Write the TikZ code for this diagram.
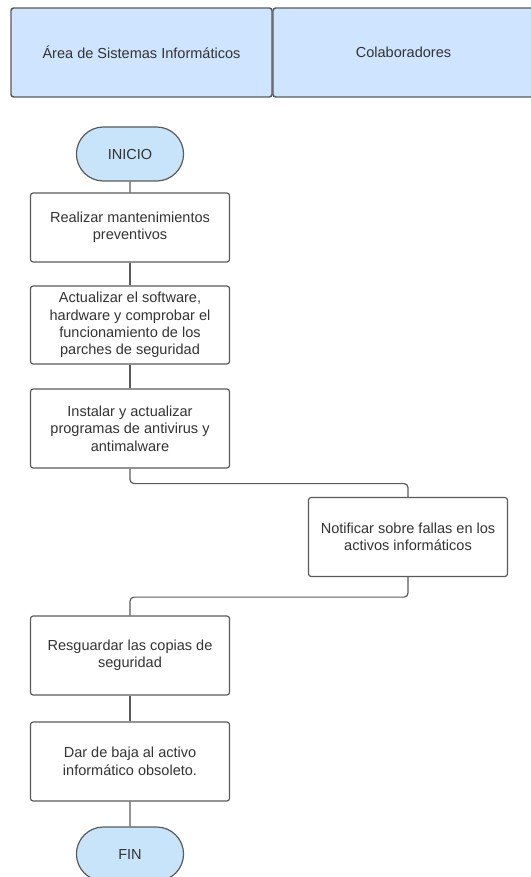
\documentclass[tikz,border=0pt]{standalone}
\usepackage{fontspec}
\setmainfont{Liberation Sans}
\usetikzlibrary{shapes.misc}
\definecolor{lanefill}{RGB}{207,228,255}
\definecolor{termfill}{RGB}{200,228,250}
\definecolor{edgegray}{RGB}{90,90,90}
\definecolor{txtgray}{RGB}{51,51,51}
\tikzset{
  lane/.style={draw=edgegray, fill=lanefill, text=txtgray, rounded corners=2pt, line width=1.1pt, minimum width=195.75pt, minimum height=66.75pt, font=\fontsize{10.9}{13.1}\selectfont},
  term/.style={rounded rectangle, draw=edgegray, fill=termfill, text=txtgray, line width=0.9pt, minimum width=87pt, minimum height=40.5pt, font=\fontsize{10.9}{13.1}\selectfont},
  stepbox/.style={draw=edgegray, fill=white, text=txtgray, rounded corners=2pt, line width=0.9pt, align=center, minimum width=149.25pt, minimum height=59.25pt, font=\fontsize{10.9}{13.1}\selectfont},
  link/.style={draw=edgegray, line width=0.9pt, rounded corners=3pt}
}

\begin{document}
\begin{tikzpicture}[x=0.75pt,y=-0.75pt]
    \useasboundingbox (0,0) rectangle (531,877);
    \node[lane] (areasi) at (141.5,52.5) {Área de Sistemas Informáticos};
    \node[lane] (colab) at (403.5,52.5) {Colaboradores};

    \node[term] (ini) at (130,154) {INICIO};
    \node[stepbox, minimum height=51.75pt] (s1) at (130,227.5) {Realizar mantenimientos\\preventivos};
    \node[stepbox, minimum height=58.5pt] (s2) at (130,325) {Actualizar el software,\\hardware y comprobar el\\funcionamiento de los\\parches de seguridad};
    \node[stepbox] (s3) at (130,428.5) {Instalar y actualizar\\programas de antivirus y\\antimalware};
    \node[stepbox] (s4) at (408,537) {Notificar sobre fallas en los\\activos informáticos};
    \node[stepbox] (s5) at (130,655.5) {Resguardar las copias de\\seguridad};
    \node[stepbox] (s6) at (130,761.5) {Dar de baja al activo\\informático obsoleto.};
    \node[term] (fin) at (130,854) {FIN};

    \draw[link] (ini) -- (s1);
    \draw[link] (s1) -- (s2);
    \draw[link] (s2) -- (s3);
    \draw[link] (s3.south) -- ++(0,15) -| (s4.north);
    \draw[link] (s4.south) -- ++(0,20) -| (s5.north);
    \draw[link] (s5) -- (s6);
    \draw[link] (s6) -- (fin);
  \end{tikzpicture}
\end{document}
